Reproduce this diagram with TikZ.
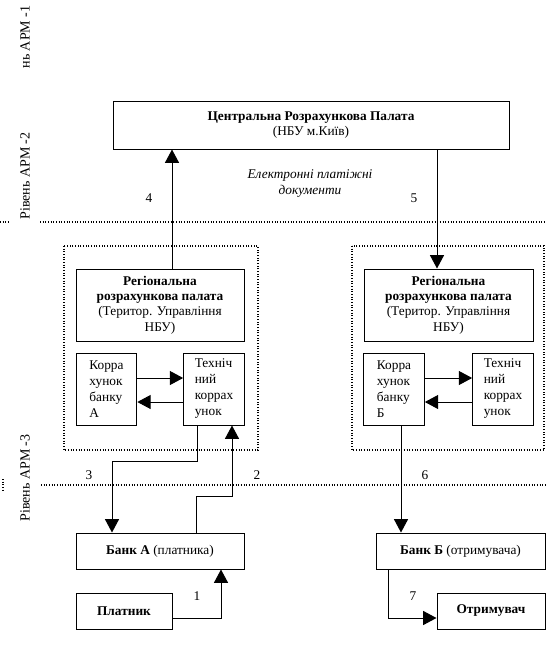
\documentclass[tikz,border=0pt]{standalone}
\usepackage{fontspec}
\setmainfont{Liberation Serif}
\usetikzlibrary{arrows.meta}
\begin{document}
\begin{tikzpicture}[x=0.75pt,y=-0.75pt,
  box/.style={draw, line width=0.75pt, inner sep=0pt, align=center, font=\fontsize{10}{11.5}\selectfont},
  sbox/.style={draw, line width=0.75pt, inner sep=0pt, align=left, minimum width=45.5pt, minimum height=54pt, font=\fontsize{10}{12}\selectfont},
  arr/.style={line width=0.75pt, -{Triangle[width=10.5pt,length=10pt]}},
  dots/.style={line width=0.85pt, dash pattern=on 0.85pt off 1.15pt},
  lbl/.style={font=\fontsize{10}{12}\selectfont, inner sep=0pt}]
\useasboundingbox[fill=white] (0,0) rectangle (546,651);

% level labels
\node[lbl, rotate=90, font=\fontsize{10.5}{12}\selectfont] (lv1) at (25,37) {нь АРМ -1};
\node[lbl, rotate=90, font=\fontsize{10.5}{12}\selectfont] (lv2) at (25,176) {Рівень АРМ -2};
\node[lbl, rotate=90, font=\fontsize{10.5}{12}\selectfont] (lv3) at (25,478) {Рівень АРМ -3};

% level separators
\draw[dots] (0,222) -- (9,222);
\draw[dots] (40,222) -- (546,222);
\draw[dots] (3,479) -- (3,491);
\draw[dots] (41,485) -- (546,485);

% dotted groups
\draw[dots] (64,246) rectangle (258,450);
\draw[dots] (352,246) rectangle (544,450);

% boxes
\node[box, minimum width=297pt, minimum height=36pt, font=\fontsize{10}{11}\selectfont] (cent) at (311,125)
  {\textbf{Центральна Розрахункова Палата}\\(НБУ м.Київ)};
\node[lbl, align=center, font=\itshape\fontsize{10}{12}\selectfont] (edoc) at (310,184)
  {Електронні платіжні\\документи};

\node[box, minimum width=126pt, minimum height=54pt] (regA) at (160,305)
  {\textbf{Регіональна}\\\textbf{розрахункова палата}\\(Територ. Управління\\НБУ)};
\node[box, minimum width=126.75pt, minimum height=54pt] (regB) at (448.5,305)
  {\textbf{Регіональна}\\\textbf{розрахункова палата}\\(Територ. Управління\\НБУ)};

\node[sbox] (korA) at (106.5,389) {Корра\\хунок\\банку\\А};
\node[sbox] (tekhA) at (214,389) {Техніч\\ний\\коррах\\унок};
\node[sbox] (korB) at (394,389) {Корра\\хунок\\банку\\Б};
\node[sbox] (tekhB) at (503,389) {Техніч\\ний\\коррах\\унок};

\node[box, minimum width=126pt, minimum height=27pt] (bankA) at (160,551) {\textbf{Банк А} (платника)};
\node[box, minimum width=126.75pt, minimum height=27pt] (bankB) at (460.5,551) {\textbf{Банк Б} (отримувача)};
\node[box, minimum width=72pt, minimum height=27pt] (platnyk) at (124,611) {\textbf{Платник}};
\node[box, minimum width=81pt, minimum height=27pt] (otrym) at (491,611) {\textbf{Отримувач}};

% helper coordinates
\coordinate (x172) at (172,0);
\coordinate (x437) at (437,0);
\coordinate (x197) at (197,0);
\coordinate (x112) at (112,0);
\coordinate (x196) at (196,0);
\coordinate (x232) at (232,0);
\coordinate (x221) at (221,0);
\coordinate (x401) at (401,0);
\coordinate (x388) at (388,0);
\coordinate (y378) at (0,378);
\coordinate (y402) at (0,402);
\coordinate (y618) at (0,618);

% connectors
\draw[arr] (regA.north -| x172) -- (cent.south -| x172);
\draw[arr] (cent.south -| x437) -- (regB.north -| x437);
\draw[arr] (korA.east |- y378) -- (tekhA.west |- y378);
\draw[arr] (tekhA.west |- y402) -- (korA.east |- y402);
\draw[arr] (korB.east |- y378) -- (tekhB.west |- y378);
\draw[arr] (tekhB.west |- y402) -- (korB.east |- y402);
\draw[arr] (tekhA.south -| x197) -- ++(0,36) -| (bankA.north -| x112);
\draw[arr] (bankA.north -| x196) -- ++(0,-36) -| (tekhA.south -| x232);
\draw[arr] (platnyk.east |- y618) -| (bankA.south -| x221);
\draw[arr] (korB.south -| x401) -- (bankB.north -| x401);
\draw[arr] (bankB.south -| x388) |- (otrym.west |- y618);

% numbers
\node[lbl] (n4) at (149,198) {4};
\node[lbl] (n5) at (414,198) {5};
\node[lbl] (n3) at (89,475) {3};
\node[lbl] (n2) at (257,475) {2};
\node[lbl] (n6) at (425,475) {6};
\node[lbl] (n1) at (197,596) {1};
\node[lbl] (n7) at (413,596) {7};
\end{tikzpicture}
\end{document}
